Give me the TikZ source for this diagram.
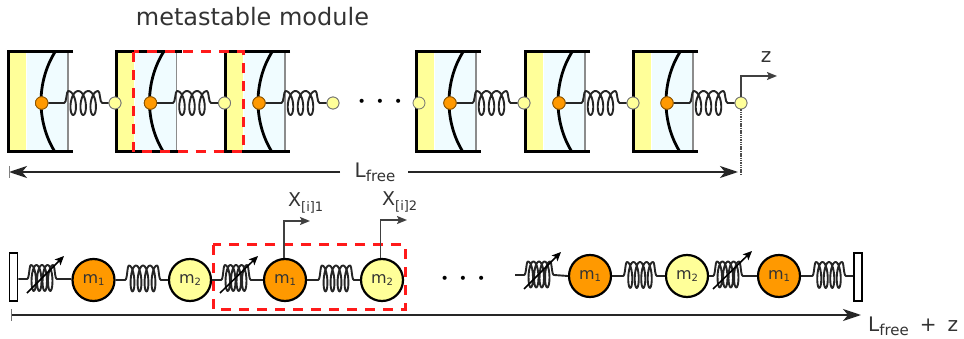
\documentclass[tikz,border=0pt]{standalone}
\usepackage{fontspec}
\setmainfont{DejaVu Sans}
\usetikzlibrary{arrows.meta}
\definecolor{cy}{HTML}{FFFF99}
\definecolor{cb}{HTML}{F0FCFF}
\definecolor{co}{HTML}{FF9900}
\definecolor{cr}{HTML}{FF1A1A}
\definecolor{ct}{HTML}{333333}
\tikzset{
 wire/.style={line width=1.9pt,draw=black!85,line join=round},
 dotO/.style={circle,draw=black!45!co,fill=co,line width=.8pt,minimum size=12.5pt,inner sep=0pt},
 dotY/.style={circle,draw=black!55,fill=cy,line width=.8pt,minimum size=12pt,inner sep=0pt},
 mO/.style={circle,draw=black,fill=co,line width=2.2pt,minimum size=42pt,inner sep=0pt,text=ct,font=\fontsize{16}{16}\selectfont},
 mY/.style={circle,draw=black,fill=cy,line width=2.2pt,minimum size=42pt,inner sep=0pt,text=ct,font=\fontsize{16}{16}\selectfont},
 redbox/.style={draw=cr,line width=3pt,dash pattern=on 10pt off 8pt},
 lab/.style={inner sep=0pt,text=ct},
 lng/.style={line width=2.2pt,draw=black!85},
 post/.style={line width=1.6pt,draw=black!75},
 wall/.style={draw=black,fill=white,line width=1.6pt,inner sep=0pt,minimum width=8pt,minimum height=48pt},
 ddd/.style={inner sep=0pt,font=\fontsize{14}{14}\selectfont,text=black},
}
% #1 from, #2 to, #3 lead level, #4 coil start x, #5 coil centre y, #6 radius, #7 pitch, #8 loops, #9 sideways swing
\newcommand{\myspring}[9]{%
 \pgfmathsetmacro{\xe}{#4+#7*#8}%
 \pgfmathsetmacro{\yt}{#5-#6}%
 \pgfmathsetmacro{\tend}{6.28318*#8}%
 \draw[wire] (#1) -- ({#4-4},#3) .. controls ({#4-1.5},#3) and ({#4-2},\yt) .. (#4,\yt)
  -- plot[domain=0:\tend,samples=90,smooth,variable=\t] ({#4+#7*\t/6.28318+#9*sin(\t r)},{#5-#6*cos(\t r)})
  .. controls ({\xe+2},\yt) and ({\xe+1.5},#3) .. ({\xe+4},#3) -- (#2);}
\newcommand{\mycell}[1]{%
 \fill[cy] (#1+9,53) rectangle (#1+25.5,151);
 \fill[cb] (#1+26.5,53) rectangle (#1+68,151);
 \draw[line width=1.5pt,draw=black!45] (#1+68,52) -- (#1+68,152);
 \draw[line width=3pt,line join=miter] (#1+73,52) -- (#1+8,52) -- (#1+8,152) -- (#1+73,152);
 \draw[line width=2.8pt] (#1+55,52) .. controls (#1+45,68) and (#1+41,86) .. (#1+41,102) .. controls (#1+41,118) and (#1+45,136) .. (#1+55,152);}
\newcommand{\subf}[1]{\raisebox{-4pt}{\fontsize{15}{15}\selectfont #1}}
\newcommand{\subm}[1]{\raisebox{-2pt}{\fontsize{10}{10}\selectfont #1}}
\newcommand{\subx}[1]{\raisebox{-5pt}{\fontsize{13}{13}\selectfont #1}}
\begin{document}
\begin{tikzpicture}[x=1pt,y=-1pt]
\useasboundingbox (0,0) rectangle (964,339);
\fill[white] (0,0) rectangle (964,339);
\node[lab,font=\fontsize{24}{24}\selectfont] (title) at (252.5,17) {metastable module};
% upper chain
\foreach \cx in {0,108.5,217,408,517,625}{\mycell{\cx}}
\foreach \nm/\ox/\yx in {a/41.7/115,b/150.5/224.5,c/259/333,d/450/524,e/559/633,f/667/741}{
 \node[dotO] (o\nm) at (\ox,103) {};
 \node[dotY] (y\nm) at (\yx,103) {};
 \myspring{o\nm}{y\nm}{103}{\ox+26.5}{103}{12}{10}{3}{5}
 \node[dotO] at (o\nm) {};
 \node[dotY] at (y\nm) {};
}
\node[dotY] (y0) at (419,103) {};
\node[ddd] (dots1) at (380,103) {\textbullet\hspace{10pt}\textbullet\hspace{10pt}\textbullet};
\draw[redbox] (133.5,52) rectangle (243,152);
% upper dimension
\coordinate (zup) at (741,76);
\coordinate (zend) at (777,76);
\coordinate (dimend) at (741,176);
\coordinate (lbar) at (9,172);
\coordinate (rtip) at (738,172);
\coordinate (lfw) at (340,172);
\coordinate (lfe) at (408,172);
\draw[post,-{Stealth[length=10pt,width=8pt,inset=2pt]}] (yf) -- (zup) -- (zend);
\draw[line width=1.5pt,draw=black!70,dash pattern=on 1.5pt off .8pt] (yf) -- (dimend);
\node[lab,font=\fontsize{20}{20}\selectfont] (zl) at (766,57) {z};
\node[lab,anchor=base,font=\fontsize{20}{20}\selectfont] (lf) at (375,178) {L\subf{free}};
\draw[lng,-{Stealth[length=18pt,width=12pt,inset=5pt]}] (lfw) -- (lbar);
\draw[line width=1pt,draw=black!50] (9,166) -- (9,178);
\draw[lng,-{Stealth[length=18pt,width=12pt,inset=5pt]}] (lfe) -- (rtip);
% lower chain
\node[wall] (w1) at (13.5,277) {};
\node[mO] (m1) at (93.5,280) {m\subm{1}};
\node[mY] (m2) at (190,280) {m\subm{2}};
\node[mO] (m3) at (285,280) {m\subm{1}};
\node[mY] (m4) at (382,280) {m\subm{2}};
\coordinate (s0) at (515,275);
\node[mO] (m5) at (590,276) {m\subm{1}};
\node[mY] (m6) at (687,276) {m\subm{2}};
\node[mO] (m7) at (779,276) {m\subm{1}};
\node[wall] (w2) at (858,277) {};
\myspring{w1.east |- 0,279}{m1.west |- 0,279}{279}{31}{278}{13}{5.5}{4}{3.5}
\myspring{m1.east}{m2.west}{280}{129}{278.5}{13}{7}{4}{3.5}
\myspring{m2.east}{m3.west}{280}{225}{278}{13}{5.5}{4}{3.5}
\myspring{m3.east}{m4.west}{280}{322}{278.5}{13}{7}{4}{3.5}
\myspring{s0}{m5.west}{275}{528}{274.5}{13}{5.5}{4}{3.5}
\myspring{m5.east}{m6.west}{276}{627}{275}{13}{6.5}{4}{3.5}
\myspring{m6.east}{m7.west}{276}{717}{274.5}{13}{5.5}{4}{3.5}
\myspring{m7.east}{w2.west |- 0,276}{276}{816}{275}{13}{6.5}{4}{3.5}
% variable-stiffness arrows
\foreach \nm/\ax/\ay/\bx/\by in {v1/27/293/64/256,v2/220/293/258/256,v3/524/289/561/252,v4/713/289/752/251}{
 \coordinate (\nm a) at (\ax,\ay);
 \coordinate (\nm b) at (\bx,\by);
 \draw[line width=1.5pt,-{Stealth[length=9pt,width=8pt,inset=2pt]}] (\nm a) -- (\nm b);
}
\draw[redbox] (213,245) rectangle (405,309);
% position markers
\coordinate (xa) at (284,221);
\coordinate (xb) at (310,221);
\coordinate (xc) at (380.5,220);
\coordinate (xd) at (407,220);
\draw[post,-{Stealth[length=10pt,width=8pt,inset=2pt]}] (m3.north -| xa) -- (xa) -- (xb);
\draw[post,-{Stealth[length=10pt,width=8pt,inset=2pt]}] (m4.north -| xc) -- (xc) -- (xd);
\node[lab,anchor=base west,font=\fontsize{19}{19}\selectfont] (x1) at (288,207) {X\subx{[i]1}};
\node[lab,anchor=base west,font=\fontsize{19}{19}\selectfont] (x2) at (382,206) {X\subx{[i]2}};
\node[ddd] (dots2) at (463,280) {\textbullet\hspace{10pt}\textbullet\hspace{10pt}\textbullet};
% lower dimension
\coordinate (ba) at (11,315);
\coordinate (bb) at (861,315);
\draw[lng,-{Stealth[length=18pt,width=12pt,inset=5pt]}] (ba) -- (bb);
\draw[line width=1pt,draw=black!55] (11,309) -- (11,321);
\node[lab,anchor=base west,font=\fontsize{20}{20}\selectfont] (lz) at (868,331) {L\subf{free}\hspace{11pt}+\hspace{11pt}z};
\end{tikzpicture}
\end{document}
